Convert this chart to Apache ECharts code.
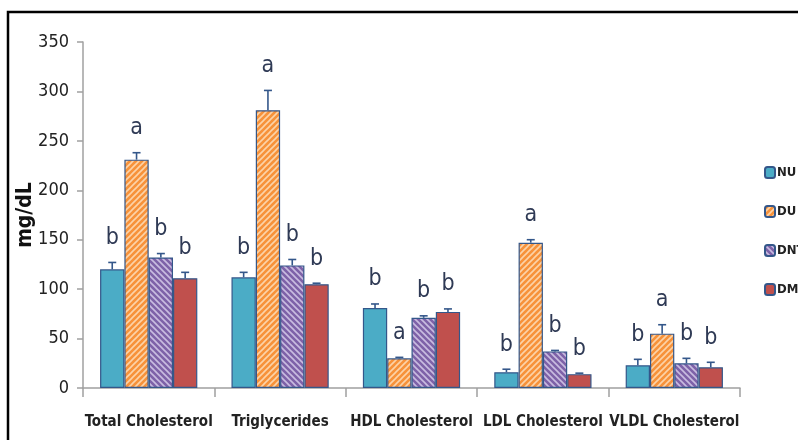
<!DOCTYPE html>
<html>
<head>
<meta charset="utf-8">
<script src="https://cdn.jsdelivr.net/npm/echarts@6/dist/echarts.min.js"></script>
<style>
html,body{margin:0;padding:0;background:#fff;}
#chart{width:798px;height:440px;}
</style>
</head>
<body>
<div id="chart"></div>
<script>
var categories = ['Total Cholesterol', 'Triglycerides', 'HDL Cholesterol', 'LDL Cholesterol', 'VLDL Cholesterol'];
var seriesNames = ['NU', 'DU', 'DNT', 'DMT'];
var NU  = [120, 112, 81, 16, 23];
var DU  = [231, 281, 30, 147, 55];
var DNT = [132, 124, 71, 37, 25];
var DMT = [111, 105, 77, 14, 21];
var NU_err  = [7, 5, 4, 3, 6];
var DU_err  = [7, 20, 1, 3, 9];
var DNT_err = [4, 6, 2, 1, 5];
var DMT_err = [6, 1, 3, 1, 5];
var NU_sig  = ['b', 'b', 'b', 'b', 'b'];
var DU_sig  = ['a', 'a', 'a', 'a', 'a'];
var DNT_sig = ['b', 'b', 'b', 'b', 'b'];
var DMT_sig = ['b', 'b', 'b', 'b', 'b'];
var yTicks = [0, 50, 100, 150, 200, 250, 300, 350];

var values = [NU, DU, DNT, DMT];
var errs = [NU_err, DU_err, DNT_err, DMT_err];
var sigs = [NU_sig, DU_sig, DNT_sig, DMT_sig];
var FONT = '"DejaVu Sans Condensed", "Liberation Sans Narrow", sans-serif';
var GAP = 0.26;

function stripes(bg, fg, dir) {
  var n = 6;
  var cv = document.createElement('canvas');
  cv.width = n; cv.height = n;
  var g = cv.getContext('2d');
  g.fillStyle = bg; g.fillRect(0, 0, n, n);
  g.strokeStyle = fg; g.lineWidth = 1.6;
  g.beginPath();
  if (dir > 0) {
    g.moveTo(-1, n + 1); g.lineTo(n + 1, -1);
    g.moveTo(-1, 1); g.lineTo(1, -1);
    g.moveTo(n - 1, n + 1); g.lineTo(n + 1, n - 1);
  } else {
    g.moveTo(-1, -1); g.lineTo(n + 1, n + 1);
    g.moveTo(n - 1, -1); g.lineTo(n + 1, 1);
    g.moveTo(-1, n - 1); g.lineTo(1, n + 1);
  }
  g.stroke();
  return {image: cv, repeat: 'repeat'};
}

var fills = [
  '#4BACC6',
  stripes('#F7923A', '#FCD3A8', 1),
  stripes('#7E62A8', '#C9BCE0', -1),
  '#C0504D'
];

var series = [];
seriesNames.forEach(function (name, i) {
  series.push({
    name: name, type: 'bar', data: values[i],
    barGap: '0%', barCategoryGap: (GAP * 100) + '%',
    itemStyle: {color: fills[i], borderColor: '#34578A', borderWidth: 1.2}
  });
});

var errData = [];
for (var s = 0; s < 4; s++) {
  for (var c = 0; c < categories.length; c++) {
    errData.push([c, s, values[s][c], values[s][c] + errs[s][c], sigs[s][c]]);
  }
}

series.push({
  type: 'custom', name: 'err', z: 10, silent: true,
  encode: {x: 0, y: 3},
  data: errData,
  renderItem: function (params, api) {
    var c = api.value(0), s = api.value(1);
    var band = api.size([1, 0])[0];
    var bw = band * (1 - GAP) / 4;
    var center = api.coord([c, 0])[0];
    var x = center - band * (1 - GAP) / 2 + bw * (s + 0.5);
    var yTop = api.coord([c, api.value(2)])[1];
    var yErr = api.coord([c, api.value(3)])[1];
    var cap = 4;
    var st = {stroke: '#34578A', lineWidth: 1.6};
    return {
      type: 'group',
      children: [
        {type: 'line', shape: {x1: x, y1: yTop, x2: x, y2: yErr}, style: st},
        {type: 'line', shape: {x1: x - cap, y1: yErr, x2: x + cap, y2: yErr}, style: st},
        {type: 'text', style: {
          text: sigs[s][c], x: x, y: yErr - 13, align: 'center', verticalAlign: 'bottom',
          fill: '#2F3A55', font: '23px ' + FONT
        }}
      ]
    };
  }
});

var chart = echarts.init(document.getElementById('chart'));
chart.setOption({
  animation: false,
  backgroundColor: '#fff',
  graphic: [{
    type: 'rect', shape: {x: 8, y: 12, width: 820, height: 460},
    style: {fill: 'none', stroke: '#000', lineWidth: 2.5}, z: 100
  }],
  grid: {left: 83, right: 58, top: 42, bottom: 52, outerBoundsMode: 'none', containLabel: false},
  legend: {
    data: seriesNames, orient: 'vertical', left: 759, top: 161,
    itemWidth: 10, itemHeight: 11, itemGap: 26,
    textStyle: {fontFamily: FONT, fontSize: 13, fontWeight: 'bold', color: '#222', padding: [0, 0, 0, -3]}
  },
  xAxis: {
    type: 'category', data: categories,
    axisLine: {lineStyle: {color: '#A0A0A0', width: 1.5}},
    axisTick: {show: true, length: 9, lineStyle: {color: '#A0A0A0', width: 1.5}},
    axisLabel: {interval: 0, fontFamily: FONT, fontSize: 15, fontWeight: 'bold', color: '#222', margin: 27}
  },
  yAxis: {
    type: 'value', min: yTicks[0], max: yTicks[yTicks.length - 1], interval: 50,
    name: 'mg/dL', nameLocation: 'middle', nameGap: 47, nameRotate: 90, nameMoveOverlap: false,
    nameTextStyle: {fontFamily: FONT, fontSize: 21, fontWeight: 'bold', color: '#111'},
    axisLine: {show: true, lineStyle: {color: '#A0A0A0', width: 1.5}},
    axisTick: {show: true, length: 6, lineStyle: {color: '#A0A0A0', width: 1.5}},
    splitLine: {show: false},
    axisLabel: {fontFamily: FONT, fontSize: 18, color: '#222', margin: 14}
  },
  series: series
});
</script>
</body>
</html>
